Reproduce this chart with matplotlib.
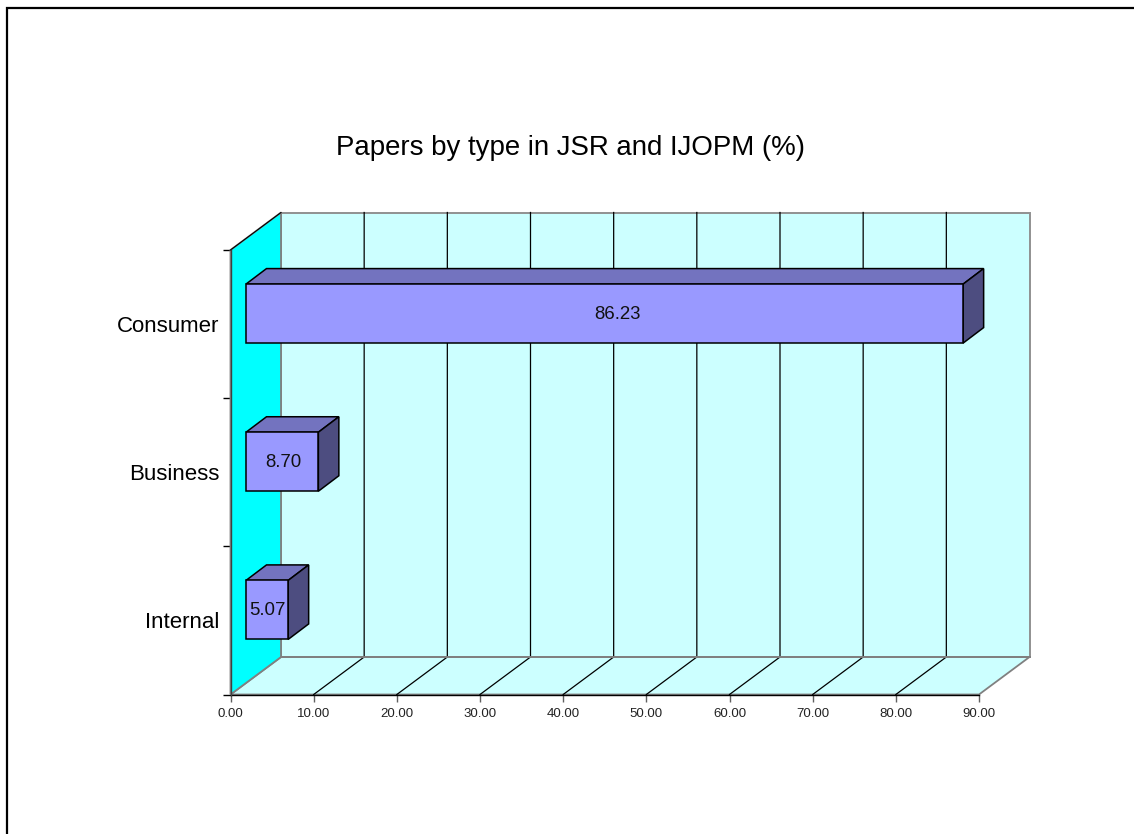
import numpy as np
import matplotlib
matplotlib.use('Agg')
import matplotlib.pyplot as plt
from matplotlib.patches import Polygon
from matplotlib.lines import Line2D

plt.rcParams['font.family'] = ['Liberation Sans', 'DejaVu Sans']

categories = ['Internal', 'Business', 'Consumer']
values = [5.07, 8.70, 86.23]
xticks = [0, 10, 20, 30, 40, 50, 60, 70, 80, 90]
title = 'Papers by type in JSR and IJOPM (%)'

W, H = 1134, 834
# front plane of the chart, pixels
LEFT, RIGHT, TOP, BOTTOM = 230.5, 979, 250, 694.5
SX = (RIGHT - LEFT) / 90.0
SY = (BOTTOM - TOP) / 3.0
# 3d offsets, in data units
WALL_DX, WALL_DY = 50.5 / SX, 37.5 / SY
BAR_X0, BAR_Y0 = 15.5 / SX, 10.5 / SY
BAR_DX, BAR_DY = 20.5 / SX, 15.5 / SY
BAR_H = 59.0 / SY

fig = plt.figure(figsize=(W / 100, H / 100), dpi=100)
ax = fig.add_axes([LEFT / W, 1 - BOTTOM / H, (RIGHT - LEFT) / W, (BOTTOM - TOP) / H])
ax.set_xlim(0, 90)
ax.set_ylim(0, 3)
ax.patch.set_visible(False)
for s in ax.spines.values():
    s.set_visible(False)


def poly(pts, fc, ec, lw, z):
    ax.add_patch(Polygon(pts, closed=True, facecolor=fc, edgecolor=ec, linewidth=lw,
                         zorder=z, clip_on=False, joinstyle='miter'))


# walls
poly([(0, 0), (90, 0), (90 + WALL_DX, WALL_DY), (WALL_DX, WALL_DY)], '#ccffff', '#808080', 1.3, 1)
poly([(WALL_DX, WALL_DY), (90 + WALL_DX, WALL_DY), (90 + WALL_DX, 3 + WALL_DY), (WALL_DX, 3 + WALL_DY)],
     '#ccffff', '#909090', 1.4, 1)
poly([(0, 0), (WALL_DX, WALL_DY), (WALL_DX, 3 + WALL_DY), (0, 3)], '#00ffff', '#808080', 1.3, 2)
ax.plot([0, WALL_DX], [3, 3 + WALL_DY], color='black', lw=0.8, zorder=3, clip_on=False)

# gridlines, on back wall and floor
for t in xticks[1:-1]:
    ax.plot([t, t + WALL_DX, t + WALL_DX], [0, WALL_DY, 3 + WALL_DY], color='black', lw=0.9,
            zorder=3, clip_on=False)
ax.plot([WALL_DX, 90 + WALL_DX], [WALL_DY, WALL_DY], color='#808080', lw=1.4, zorder=3.5, clip_on=False)

# bars
for i, (cat, v) in enumerate(zip(categories, values)):
    x0 = BAR_X0
    x1 = BAR_X0 + v
    y0 = i + 0.5 + BAR_Y0 - BAR_H / 2
    y1 = y0 + BAR_H
    poly([(x0, y1), (x1, y1), (x1 + BAR_DX, y1 + BAR_DY), (x0 + BAR_DX, y1 + BAR_DY)], '#7373bf', 'black', 1.1, 5)
    poly([(x1, y0), (x1 + BAR_DX, y0 + BAR_DY), (x1 + BAR_DX, y1 + BAR_DY), (x1, y1)], '#4d4d80', 'black', 1.1, 5)
    poly([(x0, y0), (x1, y0), (x1, y1), (x0, y1)], '#9999ff', 'black', 1.1, 6)
    # labels drift a little right of the bar centre on long bars
    ax.text(x0 + v * 0.518, (y0 + y1) / 2 - 1.0 / SY, '%.2f' % v, ha='center', va='center', fontsize=13.4,
            color='#111111', zorder=7)

# axes lines
ax.plot([0, 90], [0, 0], color='black', lw=1.0, zorder=4, clip_on=False)
ax.plot([0, 0], [0, 3], color='#404040', lw=1.0, zorder=4, clip_on=False)

ax.set_xticks(xticks)
ax.set_xticklabels(['%.2f' % t for t in xticks], fontsize=9.5, color='#222222')
ax.tick_params(axis='x', length=5, width=1, color='#606060', pad=4.5)
ax.set_yticks([0, 1, 2, 3])
ax.set_yticklabels([])
ax.tick_params(axis='y', length=5.5, width=1, color='black')
ax.set_yticks([0.5, 1.5, 2.5], minor=True)
ax.set_yticklabels(categories, minor=True, fontsize=16)
ax.tick_params(axis='y', which='minor', length=0, pad=8)

fig.text(571 / W, 1 - 148 / H, title, ha='center', va='center', fontsize=19.9)

# outer border, only left and top are on the page
fig.add_artist(Line2D([7 / W, 7 / W, 1], [0, 1 - 8 / H, 1 - 8 / H], color='black', lw=1.6,
                      transform=fig.transFigure, solid_joinstyle='miter'))

fig.savefig('out.png', dpi=100, facecolor='white')
